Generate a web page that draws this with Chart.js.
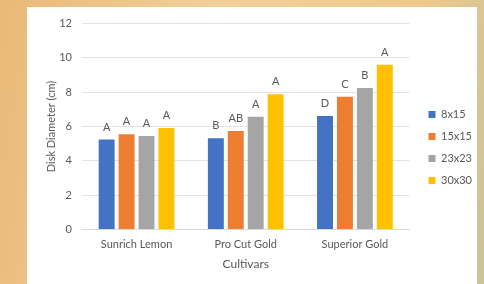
<!DOCTYPE html>
<html>
<head>
<meta charset="utf-8">
<script src="https://cdn.jsdelivr.net/npm/chart.js@4"></script>
<style>
    html, body { margin: 0; padding: 0; }
    body {
        width: 484px; height: 284px; overflow: hidden; position: relative;
        background: linear-gradient(100deg, #e9b978 0%, #f1cf98 40%, #efc98c 80%, #c9c39a 100%);
    }
    #box {
        position: absolute; left: 27px; top: 7px; width: 450px; height: 277px;
        background: #ffffff;
    }
</style>
</head>
<body>
<div id="box"><canvas id="chart" width="450" height="277"></canvas></div>
<script>
/* ====================================
   DATOS DEL GRÁFICO
   ==================================== */
const cultivars = ['Sunrich Lemon', 'Pro Cut Gold', 'Superior Gold'];
const spacings = ['8x15', '15x15', '23x23', '30x30'];
const spacingColors = ['#4472C4', '#ED7D31', '#A5A5A5', '#FFC000'];

const disk8x15 = [5.24, 5.32, 6.61];
const disk15x15 = [5.55, 5.74, 7.73];
const disk23x23 = [5.45, 6.57, 8.25];
const disk30x30 = [5.91, 7.88, 9.60];

const letters8x15 = ['A', 'B', 'D'];
const letters15x15 = ['A', 'AB', 'C'];
const letters23x23 = ['A', 'A', 'B'];
const letters30x30 = ['A', 'A', 'A'];

const yTicks = [0, 2, 4, 6, 8, 10, 12];

const seriesValues = [disk8x15, disk15x15, disk23x23, disk30x30];
const seriesLetters = [letters8x15, letters15x15, letters23x23, letters30x30];

const textColor = '#595959';
const fontFamily = 'Lato, "Open Sans", sans-serif';

// letras de significancia sobre cada barra
const letterPlugin = {
    id: 'letterPlugin',
    afterLayout(chart) {
        // separa un poco la leyenda del área de gráfico
        chart.legend.left += 8;
        chart.legend.right += 8;
        chart.legend.top += 6;
        chart.legend.bottom += 6;
    },
    afterDatasetsDraw(chart) {
        const ctx = chart.ctx;
        ctx.save();
        ctx.fillStyle = textColor;
        ctx.font = '11px ' + fontFamily;
        ctx.textAlign = 'center';
        ctx.textBaseline = 'bottom';
        chart.data.datasets.forEach((ds, i) => {
            const meta = chart.getDatasetMeta(i);
            meta.data.forEach((bar, j) => {
                ctx.fillText(seriesLetters[i][j], bar.x, bar.y - 7);
            });
        });
        ctx.restore();
    }
};

new Chart(document.getElementById('chart'), {
    type: 'bar',
    data: {
        labels: cultivars,
        datasets: spacings.map((s, i) => ({
            label: s,
            data: seriesValues[i],
            backgroundColor: spacingColors[i],
            borderWidth: 0,
            barPercentage: 0.8,
            categoryPercentage: 0.73
        }))
    },
    options: {
        responsive: false,
        animation: false,
        layout: { padding: { left: 0, top: 5, right: 3, bottom: 13 } },
        plugins: {
            legend: {
                position: 'right',
                labels: {
                    boxWidth: 7,
                    boxHeight: 7,
                    padding: 11,
                    color: textColor,
                    font: { family: fontFamily, size: 11 }
                }
            },
            tooltip: { enabled: false }
        },
        scales: {
            x: {
                grid: { display: false, drawTicks: false },
                border: { color: '#d9d9d9' },
                ticks: { color: textColor, padding: 8, font: { family: fontFamily, size: 11 } },
                title: {
                    display: true,
                    text: 'Cultivars',
                    color: textColor,
                    padding: { top: -2, bottom: 0 },
                    font: { family: fontFamily, size: 12 }
                }
            },
            y: {
                min: 0,
                max: 12,
                afterBuildTicks: (axis) => { axis.ticks = yTicks.map(v => ({ value: v })); },
                grid: { color: '#e3e3e3', drawTicks: false },
                border: { display: false },
                ticks: { color: textColor, padding: 10, font: { family: fontFamily, size: 11 } },
                title: {
                    display: true,
                    text: 'Disk Diameter (cm)',
                    color: textColor,
                    padding: { top: 18, bottom: -9 },
                    font: { family: fontFamily, size: 11 }
                }
            }
        }
    },
    plugins: [letterPlugin]
});
</script>
</body>
</html>
